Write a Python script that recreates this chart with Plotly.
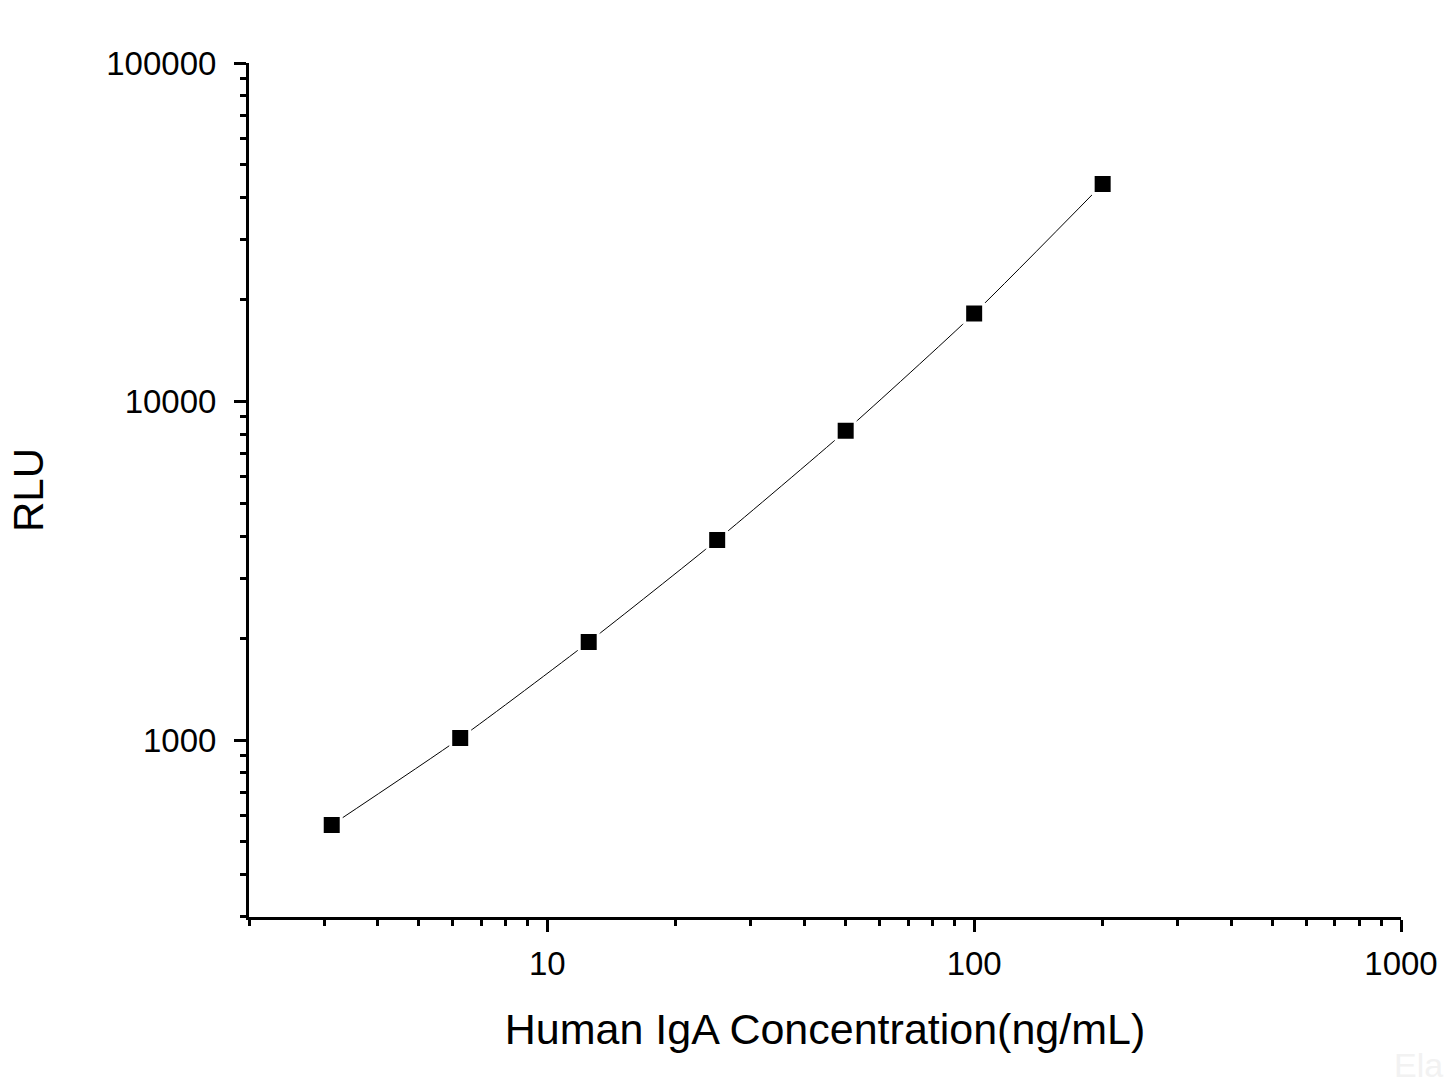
import plotly.graph_objects as go

conc = [3.125, 6.25, 12.5, 25, 50, 100, 200]
rlu = [561, 1013, 1948, 3900, 8190, 18200, 43900]
x_tick_vals = [10, 100, 1000]
x_tick_text = ["10", "100", "1000"]
y_tick_vals = [1000, 10000, 100000]
y_tick_text = ["1000", "10000", "100000"]

font_family = "Arial, Liberation Sans, sans-serif"

fig = go.Figure()
fig.add_trace(go.Scatter(
    x=conc, y=rlu, mode="lines+markers",
    line=dict(color="black", width=1, shape="spline", smoothing=0.6),
    marker=dict(symbol="square", size=19, color="black",
                line=dict(color="white", width=3)),
    showlegend=False,
))

fig.update_layout(
    width=1450, height=1087,
    margin=dict(l=249, r=46, t=63, b=170),
    paper_bgcolor="white", plot_bgcolor="white",
    font=dict(family=font_family, color="black"),
    xaxis=dict(
        type="log", range=[0.30103, 3],
        showline=True, linecolor="black", linewidth=3,
        showgrid=False, zeroline=False,
        ticks="outside", ticklen=12, tickwidth=3, tickcolor="black",
        tickvals=x_tick_vals, ticktext=x_tick_text,
        tickfont=dict(size=33, family=font_family),
        ticklabelstandoff=3,
        minor=dict(ticks="outside", ticklen=6, tickwidth=3, tickcolor="black",
                   dtick="D1", showgrid=False),
        title=dict(text="Human IgA Concentration(ng/mL)",
                   font=dict(size=43, family=font_family), standoff=34),
    ),
    yaxis=dict(
        type="log", range=[2.4771, 5],
        showline=True, linecolor="black", linewidth=3,
        showgrid=False, zeroline=False,
        ticks="outside", ticklen=12, tickwidth=3, tickcolor="black",
        tickvals=y_tick_vals, ticktext=y_tick_text,
        tickfont=dict(size=33, family=font_family),
        ticklabelstandoff=11,
        minor=dict(ticks="outside", ticklen=6, tickwidth=3, tickcolor="black",
                   dtick="D1", showgrid=False),
        title=dict(text="RLU", font=dict(size=42, family=font_family), standoff=50),
    ),
)

fig.add_annotation(
    text="Ela", x=1.0, y=0.0, xref="paper", yref="paper",
    xanchor="right", yanchor="middle", xshift=44, yshift=-148,
    showarrow=False, font=dict(size=34, color="#f2f2f2", family=font_family),
)

fig.write_html("out.html")
